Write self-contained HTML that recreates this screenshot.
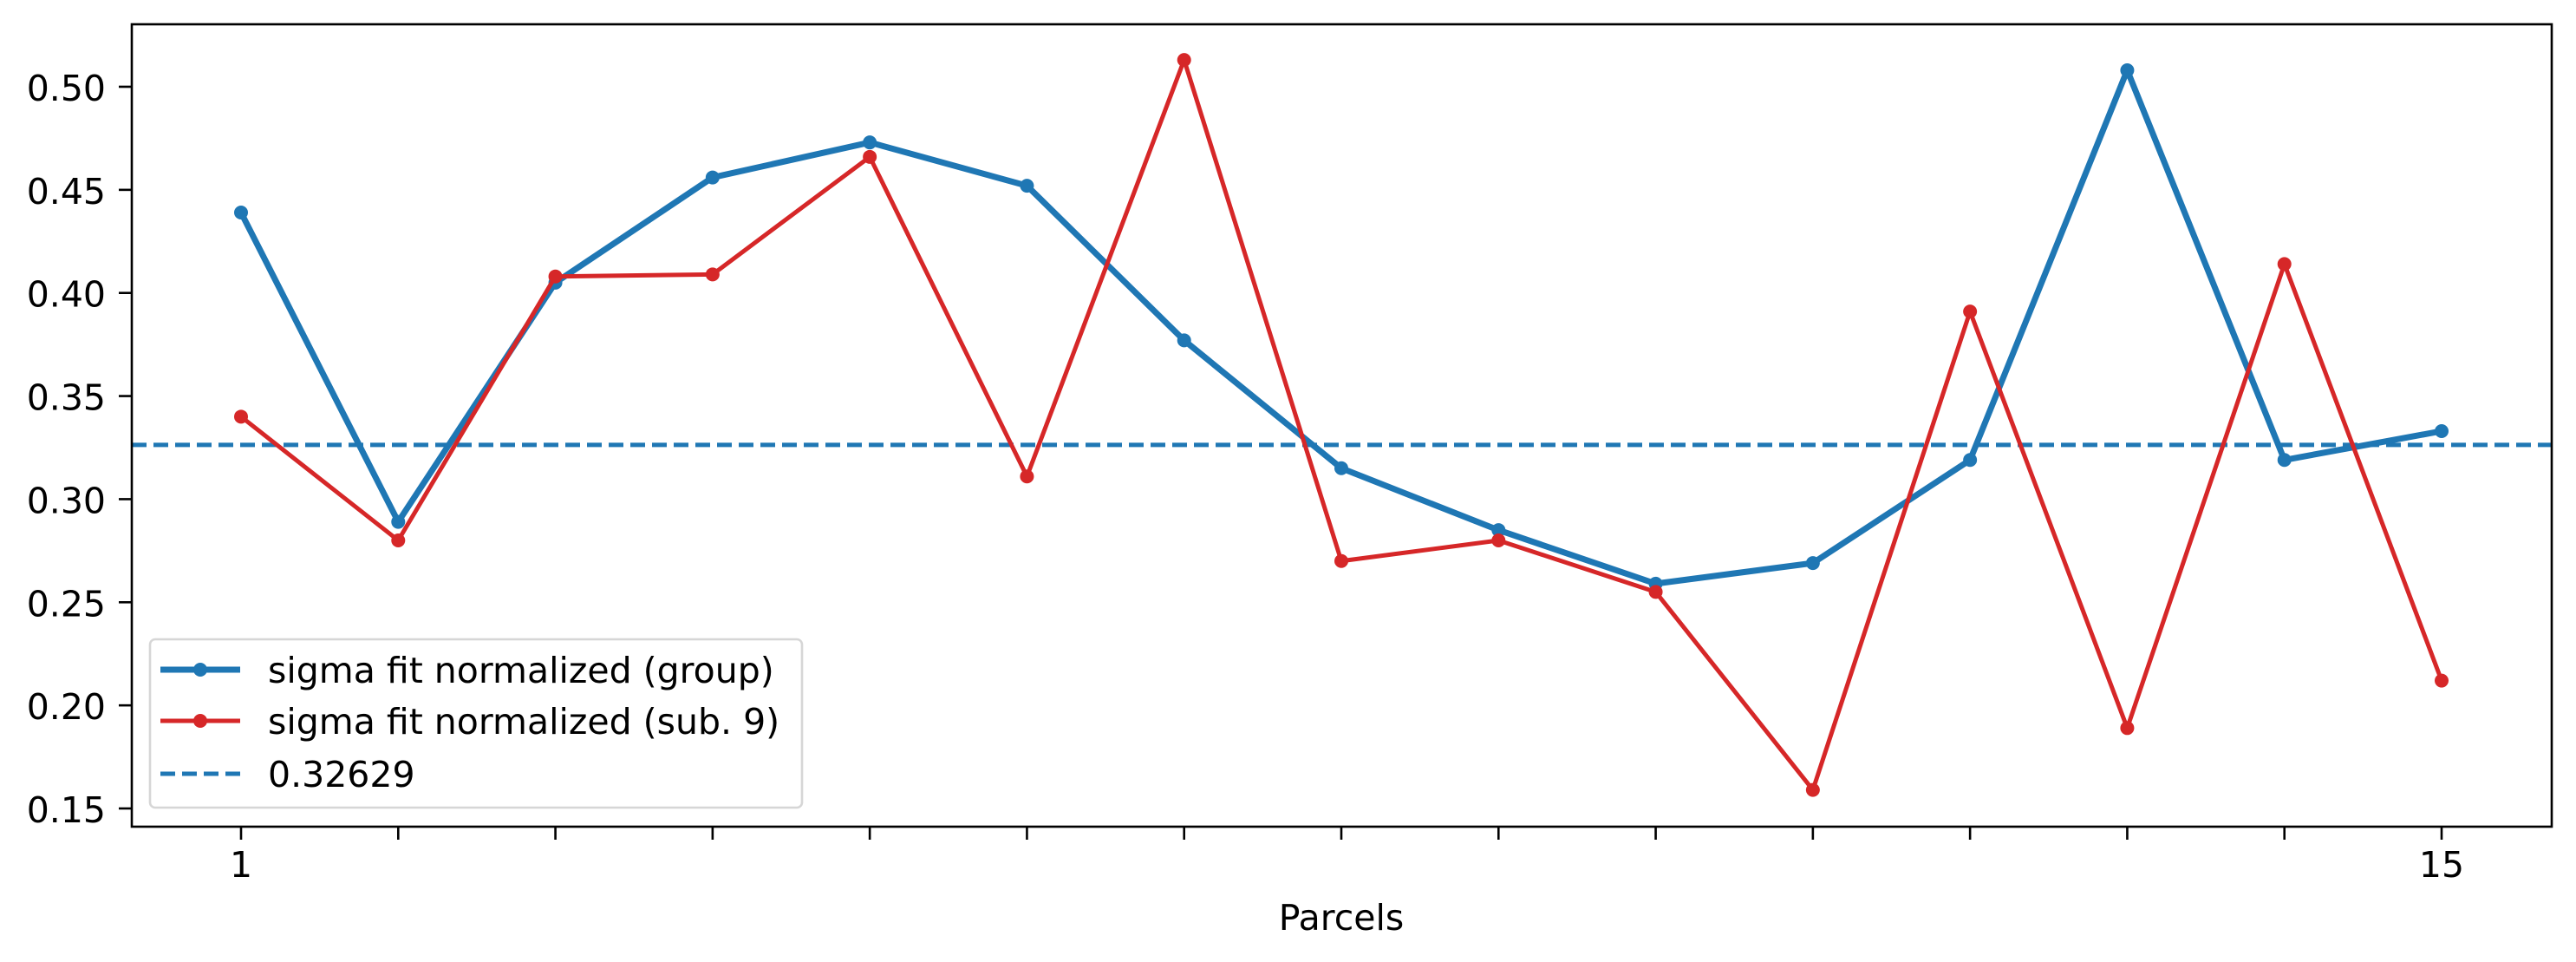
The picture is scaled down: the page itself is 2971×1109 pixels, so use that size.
<!DOCTYPE html>
<html><head><meta charset="utf-8"><style>
body{margin:0;background:#fff;}
svg{display:block;font-family:"DejaVu Sans","Liberation Sans",sans-serif;}
</style></head><body>
<svg id="chart" width="2971" height="1109" viewBox="0 0 2971 1109" xmlns="http://www.w3.org/2000/svg">
<rect width="2971" height="1109" fill="#fff"/>
<g id="series"></g>
<rect x="152" y="28" width="2791" height="925" fill="none" stroke="#000" stroke-width="2.6"/>
<g id="axes"></g>
<text x="1547" y="1072" font-size="41" text-anchor="middle">Parcels</text>
<g>
<rect x="173" y="737" width="752" height="194" rx="6" fill="#fff" fill-opacity="0.8" stroke="#d6d6d6" stroke-width="2.6"/>
<g>
<line x1="185" y1="772" x2="277" y2="772" stroke="#1f77b4" stroke-width="7"/>
<circle cx="231" cy="772" r="8" fill="#1f77b4"/>
<text x="309" y="787" font-size="41">sigma fit normalized (group)</text></g>
<g>
<line x1="185" y1="831" x2="277" y2="831" stroke="#d62728" stroke-width="5"/>
<circle cx="231" cy="831" r="8" fill="#d62728"/>
<text x="309" y="846" font-size="41">sigma fit normalized (sub. 9)</text></g>
<g>
<line x1="185" y1="892" x2="277" y2="892" stroke="#1f77b4" stroke-width="5" stroke-dasharray="17,8"/>
<text x="309" y="907" font-size="41">0.32629</text></g>
</g>
</svg>
<script>
const parcels=[1,2,3,4,5,6,7,8,9,10,11,12,13,14,15];
const groupVals=[0.439,0.289,0.405,0.456,0.473,0.452,0.377,0.315,0.285,0.259,0.269,0.319,0.508,0.319,0.333];
const subVals=[0.340,0.280,0.408,0.409,0.466,0.311,0.513,0.270,0.280,0.255,0.159,0.391,0.189,0.414,0.212];
const meanVal=0.32629;
const yTicks=[0.15,0.20,0.25,0.30,0.35,0.40,0.45,0.50];
const xTickLabels=["1","","","","","","","","","","","","","","15"];
const NS="http://www.w3.org/2000/svg";
function X(v){return 278+(v-1)*(2816-278)/14;}
function Y(v){return 932-(v-0.15)*(932-100)/0.35;}
function mk(t,a,p){const e=document.createElementNS(NS,t);for(const k in a)e.setAttribute(k,a[k]);p.appendChild(e);return e;}
const axes=document.getElementById('axes'),series=document.getElementById('series');
yTicks.forEach(v=>{
 const l=mk('line',{x1:137,x2:152,y1:Y(v),y2:Y(v),stroke:'#000','stroke-width':2.6},axes);
 
 
 const t=mk('text',{x:122,y:Y(v)+16,'font-size':41,'text-anchor':'end'},axes);
 t.textContent=v.toFixed(2);
 
 
});
parcels.forEach((p,i)=>{
 const l=mk('line',{x1:X(p),x2:X(p),y1:953,y2:968,stroke:'#000','stroke-width':2.6},axes);
 
 
 if(xTickLabels[i]){const t=mk('text',{x:X(p),y:1011,'font-size':41,'text-anchor':'middle'},axes);t.textContent=xTickLabels[i];
 
 }
});
const ml=mk('line',{x1:152,x2:2943,y1:Y(meanVal),y2:Y(meanVal),stroke:'#1f77b4','stroke-width':5,'stroke-dasharray':'17,8'},series);


function draw(vals,color,w,name){
 const pl=mk('polyline',{points:vals.map((v,i)=>X(parcels[i])+','+Y(v)).join(' '),fill:'none',stroke:color,'stroke-width':w,'stroke-linejoin':'round'},series);
 
 
 vals.forEach((v,i)=>{const c=mk('circle',{cx:X(parcels[i]),cy:Y(v),r:8,fill:color},series);
 
 });
}
draw(groupVals,'#1f77b4',7,'group');
draw(subVals,'#d62728',5,'sub9');
</script>
</body></html>
